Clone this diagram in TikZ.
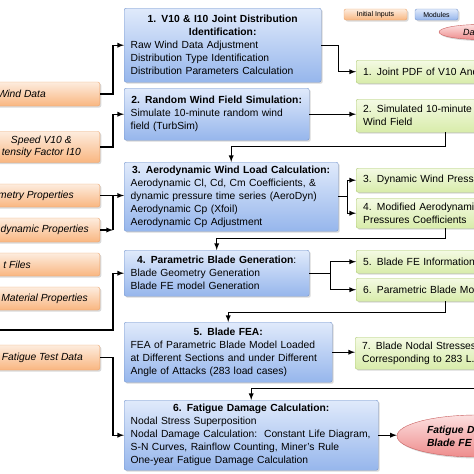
\documentclass[tikz,border=0pt]{standalone}
\usepackage{fontspec}
\setmainfont{Liberation Sans}
\usetikzlibrary{positioning,shapes.geometric,shadows}

\definecolor{inTop}{RGB}{253,236,222}
\definecolor{inBot}{RGB}{249,182,128}
\definecolor{inLine}{RGB}{236,165,110}
\definecolor{modTop}{RGB}{224,234,251}
\definecolor{modBot}{RGB}{150,182,236}
\definecolor{modLine}{RGB}{118,150,205}
\definecolor{outTop}{RGB}{244,250,228}
\definecolor{outBot}{RGB}{216,236,170}
\definecolor{outLine}{RGB}{175,202,118}
\definecolor{resTop}{RGB}{252,224,224}
\definecolor{resBot}{RGB}{238,140,140}
\definecolor{resLine}{RGB}{200,95,95}

\newcommand{\modtitle}[1]{\makebox[\hsize][c]{\bfseries #1}\\}

\begin{document}
\begin{tikzpicture}[x=1pt,y=-1pt,
    every node/.style={font=\fontsize{10.3}{13}\selectfont},
    box/.style={rectangle,rounded corners=2pt,drop shadow={shadow xshift=1.5pt,shadow yshift=-1.5pt,opacity=0.3}},
    inbox/.style={box,draw=inLine,top color=inTop,bottom color=inBot,anchor=east,minimum width=200pt},
    intext/.style={anchor=east,inner sep=0pt,font=\fontsize{10.3}{12}\selectfont\itshape},
    module/.style={box,draw=modLine,top color=modTop,bottom color=modBot,anchor=north west,inner xsep=6.5pt,inner ysep=0pt,align=left},
    outbox/.style={box,draw=outLine,top color=outTop,bottom color=outBot,anchor=north west,inner xsep=7pt,inner ysep=0pt,align=left},
    result/.style={ellipse,draw=resLine,top color=resTop,bottom color=resBot,inner sep=0pt,align=left,drop shadow={shadow xshift=1.5pt,shadow yshift=-1.5pt,opacity=0.3}},
    link/.style={line width=1.3pt,>=latex,->},
    joint/.style={line width=1.3pt}]

    \useasboundingbox (0,0) rectangle (474,474);
    \clip (0,0) rectangle (474,474);

    % legend
    \node[box,draw=inLine,top color=inTop,bottom color=inBot,minimum width=63pt,minimum height=11pt,inner sep=0pt,font=\fontsize{7}{8}\selectfont] (leg1) at (375.5,14.5) {Initial Inputs};
    \node[box,draw=modLine,top color=modTop,bottom color=modBot,minimum width=43pt,minimum height=11pt,inner sep=0pt,font=\fontsize{7}{8}\selectfont] (leg2) at (436.5,14.5) {Modules};
    \node[result,minimum width=82pt,minimum height=15pt,text width=34pt,font=\fontsize{9}{10}\selectfont\itshape] (leg3) at (480,32) {Da};

    % initial inputs
    \node[inbox,minimum height=24pt] (in1) at (100,94) {};
    \node[intext] (in1t) at (46,94) {Wind Data};
    \node[inbox,minimum height=31pt] (in2) at (100,147) {};
    \node[intext,align=center] (in2t) at (81,147) {Speed V10 \&\\tensity Factor I10};
    \node[inbox,minimum height=23pt] (in3) at (100,195.5) {};
    \node[intext] (in3t) at (74,195.5) {metry Properties};
    \node[inbox,minimum height=24pt] (in4) at (100,230) {};
    \node[intext] (in4t) at (89,230) {dynamic Properties};
    \node[inbox,minimum height=23pt] (in5) at (100,264.5) {};
    \node[intext] (in5t) at (31,264.5) {t Files};
    \node[inbox,minimum height=23pt] (in6) at (100,298.5) {};
    \node[intext] (in6t) at (88,298.5) {Material Properties};
    \node[inbox,minimum height=25pt] (in7) at (100,357.5) {};
    \node[intext] (in7t) at (83,357.5) {Fatigue Test Data};
    \coordinate (inbus) at (-5,330);

    % modules
    \node[module,text width=184pt,minimum height=74pt] (m1) at (124,8)
        {\modtitle{1. V10 \& I10 Joint Distribution}\modtitle{Identification:}Raw Wind Data Adjustment\\Distribution Type Identification\\Distribution Parameters Calculation};
    \node[module,text width=172pt,minimum height=52pt] (m2) at (124,88)
        {\modtitle{2. Random Wind Field Simulation:}Simulate 10-minute random wind\\field (TurbSim)};
    \node[module,text width=201pt,minimum height=69pt] (m3) at (124,162)
        {\modtitle{3. Aerodynamic Wind Load Calculation:}Aerodynamic Cl, Cd, Cm Coefficients, \&\\dynamic pressure time series (AeroDyn)\\Aerodynamic Cp (Xfoil)\\Aerodynamic Cp Adjustment};
    \node[module,text width=172pt,minimum height=46pt] (m4) at (124,250)
        {\makebox[\hsize][c]{\textbf{4. Parametric Blade Generation}:}\\Blade Geometry Generation\\Blade FE model Generation};
    \node[module,text width=195pt,minimum height=60pt] (m5) at (124,322)
        {\modtitle{5. Blade FEA:}FEA of Parametric Blade Model Loaded\\at Different Sections and under Different\\Angle of Attacks (283 load cases)};
    \node[module,text width=241pt,minimum height=70pt] (m6) at (124,400)
        {\modtitle{6. Fatigue Damage Calculation:}Nodal Stress Superposition\\Nodal Damage Calculation:\ \ Constant Life Diagram,\\S-N Curves, Rainflow Counting, Miner's Rule\\One-year Fatigue Damage Calculation};

    % outputs
    \node[outbox,text width=164pt,minimum height=23pt] (out1) at (356,60) {1. Joint PDF of V10 And};
    \node[outbox,text width=164pt,minimum height=33pt] (out2) at (356,99) {2. Simulated 10-minute\\Wind Field};
    \node[outbox,text width=164pt,minimum height=24pt] (out3) at (356,168) {3. Dynamic Wind Pressu};
    \node[outbox,text width=164pt,minimum height=30pt] (out4) at (356,198) {4. Modified Aerodynami\\Pressures Coefficients};
    \node[outbox,text width=164pt,minimum height=23pt] (out5) at (356,250) {5. Blade FE Information};
    \node[outbox,text width=164pt,minimum height=23pt] (out6) at (356,278) {6. Parametric Blade Mo};
    \node[outbox,text width=246pt,minimum height=32pt] (out7) at (355,337) {7. Blade Nodal Stresses\\Corresponding to 283 L.};
    \node[result,minimum width=160pt,minimum height=42pt,text width=100pt,font=\fontsize{10.3}{13}\selectfont\bfseries\itshape] (res) at (477,436) {Fatigue D\\Blade FE};

    % inputs to modules
    \draw[link] (in1.east) -- ++(13,0) |- (m1.west);
    \draw[link] (in2.east) -- ++(13,0) |- (m2.west);
    \draw[link] (in3.east) -- (in3.east -| m3.west);
    \draw[link] (in4.east) -- ++(13,0) coordinate (j34);
    \draw[joint] (j34) -- (j34 |- in3.east);
    \draw[link] (inbus) -- (inbus -| j34) |- (m4.west);
    \draw[link] (in7.east) -- ++(13,0) |- (m6.west);

    % modules to outputs
    \draw[link] (m1.east) -- ++(17,0) |- (out1.west);
    \draw[link] (m2.east) -- (m2.east -| out2.west);
    \draw[link] (out2.south) -- ++(0,14) -| (m3.north);
    \draw[joint] (m3.east) -- ++(9,0) coordinate (s3);
    \draw[link] (s3) |- (out3.west);
    \draw[link] (s3) |- (out4.west);
    \draw[link] (out4.south) -- ++(0,10) -| (m4.north);
    \draw[joint] (m4.east) -- ++(21,0) coordinate (s4);
    \draw[link] (s4) |- (out5.west);
    \draw[link] (s4) |- (out6.west);
    \draw[link] (out6.south) -- ++(0,11) -| (m5.north);
    \draw[link] (m5.east) -- (m5.east -| out7.west);
    \draw[link] (out7.south) -- ++(0,19) -| (m6.north);
    \draw[link] (m6.east) -- (m6.east -| res.west);
\end{tikzpicture}
\end{document}
